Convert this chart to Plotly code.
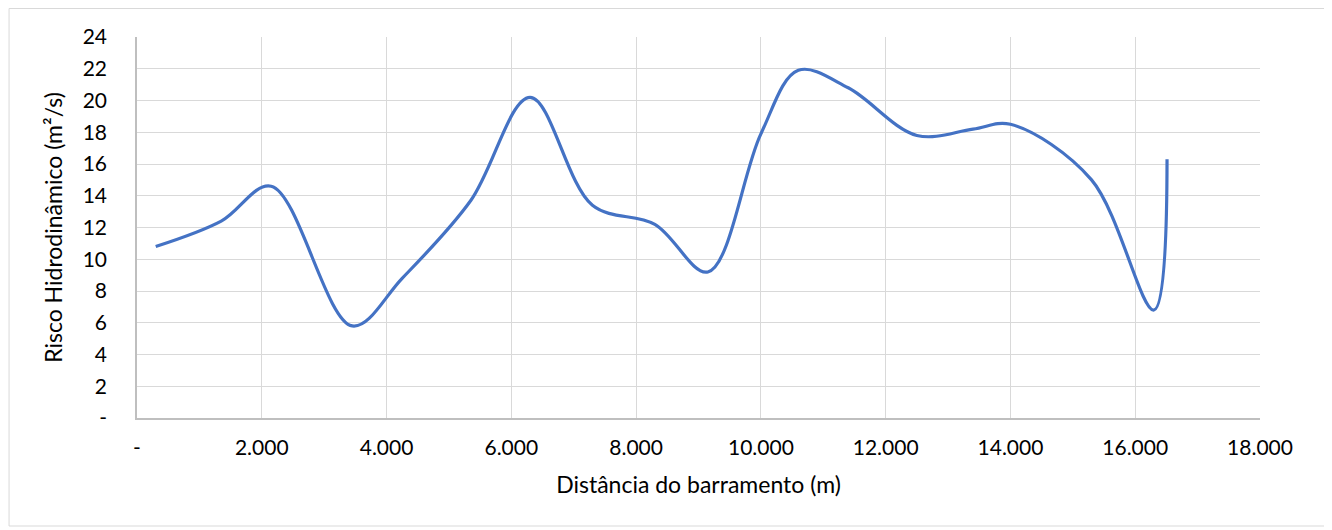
import plotly.graph_objects as go

# Data
distancia_m = [300, 1350, 2150, 3450, 4250, 5350, 6300, 7300, 8300, 9150,
               10000, 10600, 11400, 12500, 13400, 14000, 15300, 16300, 16510]
risco = [10.8, 12.4, 14.6, 5.8, 8.8, 13.7, 20.2, 13.4, 12.2, 9.2,
         17.9, 21.9, 20.8, 17.8, 18.2, 18.5, 15.0, 6.8, 16.3]

x_tickvals = [0, 2000, 4000, 6000, 8000, 10000, 12000, 14000, 16000, 18000]
x_ticktext = ["-", "2.000", "4.000", "6.000", "8.000", "10.000", "12.000",
              "14.000", "16.000", "18.000"]
y_tickvals = [0, 2, 4, 6, 8, 10, 12, 14, 16, 18, 20, 22, 24]
y_ticktext = ["-", "2", "4", "6", "8", "10", "12", "14", "16", "18", "20", "22", "24"]

# page body has an 8px margin, so the figure is laid out 8px smaller
W, H = 1324, 522
ML, MR, MT, MB = 128.5, 72, 29, 112

fig = go.Figure()
fig.add_trace(go.Scatter(
    x=distancia_m, y=risco, mode="lines",
    line=dict(color="#4472C4", width=3.2, shape="spline", smoothing=1.0),
    hoverinfo="x+y", showlegend=False,
))

font = dict(family="Lato, Carlito, Calibri, sans-serif", size=21, color="#000000")

fig.update_layout(
    width=W, height=H,
    margin=dict(l=ML, r=MR, t=MT, b=MB, pad=0),
    paper_bgcolor="white", plot_bgcolor="white",
    font=font,
    xaxis=dict(
        range=[0, 18000], tickvals=x_tickvals, ticktext=x_ticktext,
        showgrid=True, gridcolor="#D9D9D9", gridwidth=1,
        showline=True, linecolor="#BFBFBF", linewidth=1.5, mirror=False,
        ticks="outside", ticklen=10, tickcolor="rgba(0,0,0,0)",
        zeroline=False,
        title=dict(text="Distância do barramento (m)", font=dict(size=23), standoff=19),
    ),
    yaxis=dict(
        range=[0, 24], tickvals=y_tickvals, ticktext=y_ticktext,
        showgrid=True, gridcolor="#D9D9D9", gridwidth=1,
        showline=True, linecolor="#BFBFBF", linewidth=1.5,
        ticks="outside", ticklen=24, tickcolor="rgba(0,0,0,0)",
        zeroline=False,
        title=dict(text="Risco Hidrodinâmico (m²/s)", font=dict(size=23), standoff=14),
    ),
)

# outer chart border (Excel chart area frame)
pw, ph = W - ML - MR, H - MT - MB
fig.add_shape(
    type="rect", xref="paper", yref="paper",
    x0=(0.5 - ML) / pw, x1=(1318 - ML) / pw,
    y0=(H - MB - 518) / ph, y1=(H - MB - 0.5) / ph,
    line=dict(color="#D9D9D9", width=1), layer="below",
)

fig.write_html("out.html")
